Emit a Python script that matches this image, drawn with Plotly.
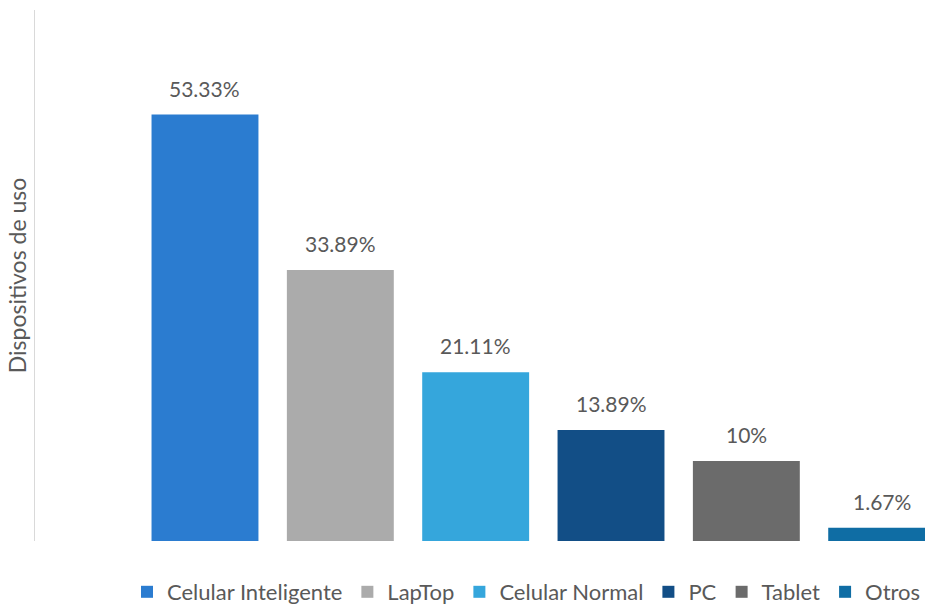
import plotly.graph_objects as go

categories = ["Celular Inteligente", "LapTop", "Celular Normal", "PC", "Tablet", "Otros"]
values = [53.33, 33.89, 21.11, 13.89, 10, 1.67]
labels = ["53.33%", "33.89%", "21.11%", "13.89%", "10%", "1.67%"]
colors = ["#2B7CD0", "#ABABAB", "#35A6DC", "#124E86", "#6B6B6B", "#0F6DA4"]

font_family = "Lato, 'Open Sans', sans-serif"
text_color = "#595959"

fig = go.Figure()
for i, (cat, val, col) in enumerate(zip(categories, values, colors)):
    fig.add_trace(go.Bar(
        x=[i], y=[val], name=cat, width=0.79,
        marker=dict(color=col, line=dict(width=0)),
        hoverinfo="skip",
    ))
    fig.add_annotation(
        x=i, y=val, text=labels[i], showarrow=False,
        yanchor="bottom", yshift=12,
        font=dict(family=font_family, size=21, color=text_color),
    )

fig.update_layout(
    width=925, height=606,
    margin=dict(l=35, r=0, t=10, b=65, autoexpand=False),
    paper_bgcolor="white", plot_bgcolor="white",
    barmode="overlay",
    showlegend=True,
    legend=dict(
        orientation="h", x=0.1034, xanchor="left",
        yref="container", y=0.0231, yanchor="middle",
        font=dict(family=font_family, size=22, color=text_color),
        itemwidth=30, traceorder="normal",
    ),
    xaxis=dict(range=[-1.256, 5.32], showticklabels=False, showgrid=False,
               zeroline=False, showline=False, ticks=""),
    yaxis=dict(range=[0, 66.4], showticklabels=False, showgrid=False,
               zeroline=False, showline=True, linecolor="#D9D9D9", linewidth=1,
               ticks="",
               title=dict(text="Dispositivos de uso", standoff=0,
                          font=dict(family=font_family, size=23, color=text_color))),
)

fig.write_html("out.html")
